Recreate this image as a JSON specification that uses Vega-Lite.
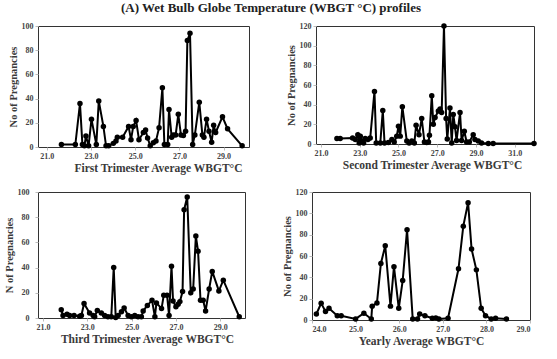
{
  "$schema": "https://vega.github.io/schema/vega-lite/v6.json",
  "background": "white",
  "padding": {"left": 3, "top": 1, "right": 4, "bottom": 2},
  "title": {"text": "(A)  Wet Bulb Globe Temperature (WBGT °C) profiles", "font": "Liberation Serif", "fontSize": 13, "fontWeight": "bold", "anchor": "middle", "color": "#222", "offset": 7},
  "config": {
    "view": {"stroke": "#333", "strokeWidth": 1},
    "axis": {"labelFont": "Liberation Serif", "labelFontWeight": "bold", "labelFontSize": 8, "labelColor": "#444", "titleFont": "Liberation Serif", "titleFontWeight": "bold", "titleFontSize": 10.5, "titleColor": "#3a3a3a", "grid": false, "domain": false, "tickColor": "#bbb", "tickSize": 3, "labelPadding": 2, "titlePadding": 3},
    "axisX": {"titleFontSize": 11.5, "titlePadding": 2},
    "line": {"color": "black", "strokeWidth": 2},
    "point": {"filled": true, "color": "black", "size": 30, "opacity": 1}
  },
  "datasets": {
    "p1": [
      {"x": 21.66, "n": 2}, {"x": 22.29, "n": 2}, {"x": 22.50, "n": 36}, {"x": 22.61, "n": 2}, {"x": 22.70, "n": 1},
      {"x": 22.77, "n": 9}, {"x": 22.89, "n": 1}, {"x": 23.02, "n": 23}, {"x": 23.24, "n": 2}, {"x": 23.35, "n": 38},
      {"x": 23.56, "n": 17}, {"x": 23.68, "n": 1}, {"x": 23.80, "n": 1}, {"x": 24.01, "n": 3}, {"x": 24.13, "n": 5},
      {"x": 24.19, "n": 8}, {"x": 24.43, "n": 8}, {"x": 24.70, "n": 17}, {"x": 24.81, "n": 6}, {"x": 24.91, "n": 17},
      {"x": 25.04, "n": 22}, {"x": 25.17, "n": 6}, {"x": 25.37, "n": 12}, {"x": 25.47, "n": 14}, {"x": 25.56, "n": 7.5},
      {"x": 25.68, "n": 1}, {"x": 25.82, "n": 3.5}, {"x": 25.94, "n": 5}, {"x": 26.08, "n": 16}, {"x": 26.23, "n": 49},
      {"x": 26.32, "n": 2}, {"x": 26.47, "n": 2}, {"x": 26.53, "n": 31}, {"x": 26.65, "n": 8}, {"x": 26.72, "n": 10},
      {"x": 26.83, "n": 10}, {"x": 26.95, "n": 27}, {"x": 27.07, "n": 10}, {"x": 27.18, "n": 9.5}, {"x": 27.28, "n": 13},
      {"x": 27.36, "n": 88}, {"x": 27.48, "n": 94}, {"x": 27.60, "n": 2}, {"x": 27.70, "n": 10}, {"x": 27.90, "n": 37},
      {"x": 28.04, "n": 10}, {"x": 28.11, "n": 8}, {"x": 28.23, "n": 23}, {"x": 28.34, "n": 13}, {"x": 28.46, "n": 4},
      {"x": 28.55, "n": 18}, {"x": 28.64, "n": 12}, {"x": 28.95, "n": 25}, {"x": 29.18, "n": 15}, {"x": 29.84, "n": 1}
    ],
    "p2": [
      {"x": 21.82, "n": 5.5}, {"x": 21.99, "n": 5.5}, {"x": 22.63, "n": 6}, {"x": 22.77, "n": 4.5}, {"x": 22.90, "n": 9.5},
      {"x": 22.97, "n": 1}, {"x": 23.03, "n": 8}, {"x": 23.11, "n": 3}, {"x": 23.20, "n": 1}, {"x": 23.28, "n": 5.5},
      {"x": 23.42, "n": 4.5}, {"x": 23.54, "n": 6}, {"x": 23.76, "n": 53.5}, {"x": 23.85, "n": 1}, {"x": 24.06, "n": 1},
      {"x": 24.19, "n": 34}, {"x": 24.28, "n": 1}, {"x": 24.48, "n": 1.5}, {"x": 24.66, "n": 4.5}, {"x": 24.78, "n": 2},
      {"x": 24.91, "n": 8}, {"x": 25.00, "n": 18}, {"x": 25.09, "n": 8}, {"x": 25.20, "n": 38}, {"x": 25.43, "n": 3},
      {"x": 25.55, "n": 1}, {"x": 25.69, "n": 3}, {"x": 25.82, "n": 1}, {"x": 25.91, "n": 19}, {"x": 26.06, "n": 9.5},
      {"x": 26.20, "n": 26}, {"x": 26.34, "n": 2}, {"x": 26.46, "n": 1.5}, {"x": 26.55, "n": 2}, {"x": 26.60, "n": 9},
      {"x": 26.72, "n": 49}, {"x": 26.80, "n": 20}, {"x": 26.89, "n": 27}, {"x": 27.06, "n": 33.5}, {"x": 27.15, "n": 35.5},
      {"x": 27.23, "n": 32}, {"x": 27.35, "n": 120}, {"x": 27.46, "n": 26}, {"x": 27.52, "n": 5}, {"x": 27.66, "n": 36.5},
      {"x": 27.75, "n": 1}, {"x": 27.83, "n": 30}, {"x": 27.92, "n": 17.5}, {"x": 28.00, "n": 3.5}, {"x": 28.18, "n": 32},
      {"x": 28.26, "n": 3.5}, {"x": 28.40, "n": 13}, {"x": 28.52, "n": 2}, {"x": 28.66, "n": 2}, {"x": 28.86, "n": 9.5},
      {"x": 28.95, "n": 4.5}, {"x": 29.12, "n": 3}, {"x": 29.29, "n": 1}, {"x": 29.64, "n": 0.5}, {"x": 29.89, "n": 0.5},
      {"x": 32.0, "n": 0.5}
    ],
    "p3": [
      {"x": 21.82, "n": 6.6}, {"x": 21.90, "n": 2}, {"x": 22.08, "n": 3}, {"x": 22.20, "n": 2}, {"x": 22.40, "n": 2},
      {"x": 22.65, "n": 1.3}, {"x": 22.73, "n": 2}, {"x": 22.85, "n": 11.5}, {"x": 23.10, "n": 4}, {"x": 23.26, "n": 2},
      {"x": 23.33, "n": 1}, {"x": 23.45, "n": 6}, {"x": 23.63, "n": 4}, {"x": 23.78, "n": 2}, {"x": 23.93, "n": 1},
      {"x": 24.08, "n": 1}, {"x": 24.19, "n": 40}, {"x": 24.28, "n": 0.3}, {"x": 24.39, "n": 2}, {"x": 24.54, "n": 5},
      {"x": 24.66, "n": 8}, {"x": 24.84, "n": 2}, {"x": 24.99, "n": 1}, {"x": 25.14, "n": 2}, {"x": 25.29, "n": 1},
      {"x": 25.44, "n": 1}, {"x": 25.52, "n": 5.5}, {"x": 25.71, "n": 10}, {"x": 25.92, "n": 14}, {"x": 26.05, "n": 1},
      {"x": 26.12, "n": 12}, {"x": 26.35, "n": 7.5}, {"x": 26.45, "n": 18}, {"x": 26.60, "n": 18}, {"x": 26.69, "n": 2},
      {"x": 26.80, "n": 41}, {"x": 26.87, "n": 13.5}, {"x": 27.00, "n": 9}, {"x": 27.10, "n": 11}, {"x": 27.18, "n": 13},
      {"x": 27.30, "n": 21}, {"x": 27.37, "n": 86}, {"x": 27.51, "n": 96}, {"x": 27.67, "n": 20}, {"x": 27.78, "n": 23},
      {"x": 27.90, "n": 65}, {"x": 28.00, "n": 53}, {"x": 28.11, "n": 14}, {"x": 28.23, "n": 14}, {"x": 28.34, "n": 5.5},
      {"x": 28.50, "n": 23}, {"x": 28.64, "n": 37}, {"x": 28.94, "n": 21.5}, {"x": 29.14, "n": 30}, {"x": 29.86, "n": 1}
    ],
    "p4": [
      {"x": 24.10, "n": 5.6}, {"x": 24.21, "n": 15.7}, {"x": 24.31, "n": 8}, {"x": 24.39, "n": 11}, {"x": 24.58, "n": 4},
      {"x": 24.67, "n": 4}, {"x": 25.00, "n": 1}, {"x": 25.19, "n": 6.3}, {"x": 25.36, "n": 1}, {"x": 25.38, "n": 13},
      {"x": 25.49, "n": 16}, {"x": 25.58, "n": 53}, {"x": 25.68, "n": 69.6}, {"x": 25.80, "n": 13}, {"x": 25.88, "n": 50},
      {"x": 25.99, "n": 11}, {"x": 26.08, "n": 37}, {"x": 26.18, "n": 84.6}, {"x": 26.31, "n": 1}, {"x": 26.42, "n": 1},
      {"x": 26.47, "n": 5.6}, {"x": 26.59, "n": 4}, {"x": 26.76, "n": 1.6}, {"x": 26.84, "n": 2}, {"x": 26.91, "n": 1},
      {"x": 27.12, "n": 1.6}, {"x": 27.36, "n": 48}, {"x": 27.47, "n": 88}, {"x": 27.58, "n": 110}, {"x": 27.66, "n": 66.5},
      {"x": 27.77, "n": 47}, {"x": 27.88, "n": 11}, {"x": 27.98, "n": 4}, {"x": 28.11, "n": 1}, {"x": 28.21, "n": 1.6},
      {"x": 28.46, "n": 1}
    ]
  },
  "spacing": 13,
  "vconcat": [
    {
      "spacing": 35,
      "hconcat": [
        {
          "data": {"name": "p1"}, "width": 211, "height": 121,
          "mark": {"type": "line", "point": true},
          "encoding": {
            "x": {"field": "x", "type": "quantitative", "scale": {"domain": [20.6, 30.15], "nice": false, "zero": false}, "axis": {"values": [21, 23, 25, 27, 29], "format": ".1f", "title": "First Trimester Average WBGT°C", "titleX": 120}},
            "y": {"field": "n", "type": "quantitative", "scale": {"domain": [0, 100], "nice": false}, "axis": {"values": [0, 20, 40, 60, 80, 100], "title": "No of Pregnancies"}}
          }
        },
        {
          "data": {"name": "p2"}, "width": 218, "height": 118,
          "mark": {"type": "line", "point": true},
          "encoding": {
            "x": {"field": "x", "type": "quantitative", "scale": {"domain": [20.74, 32.0], "nice": false, "zero": false}, "axis": {"values": [21, 23, 25, 27, 29, 31], "format": ".1f", "title": "Second Trimester Average WBGT°C", "titleX": 116}},
            "y": {"field": "n", "type": "quantitative", "scale": {"domain": [0, 120], "nice": false}, "axis": {"values": [0, 20, 40, 60, 80, 100, 120], "title": "No of Pregnancies"}}
          }
        }
      ]
    },
    {
      "spacing": 35,
      "hconcat": [
        {
          "data": {"name": "p3"}, "width": 207, "height": 126,
          "mark": {"type": "line", "point": true},
          "encoding": {
            "x": {"field": "x", "type": "quantitative", "scale": {"domain": [20.77, 30.12], "nice": false, "zero": false}, "axis": {"values": [21, 23, 25, 27, 29], "format": ".1f", "title": "Third Trimester Average WBGT°C", "titleX": 109}},
            "y": {"field": "n", "type": "quantitative", "scale": {"domain": [0, 100], "nice": false}, "axis": {"values": [0, 20, 40, 60, 80, 100], "title": "N of Pregnancies", "labelPadding": 6}}
          }
        },
        {
          "data": {"name": "p4"}, "width": 218, "height": 128,
          "mark": {"type": "line", "point": true},
          "encoding": {
            "x": {"field": "x", "type": "quantitative", "scale": {"domain": [24, 29], "nice": false, "zero": false}, "axis": {"values": [24, 25, 26, 27, 28, 29], "format": ".1f", "title": "Yearly Average WBGT°C"}},
            "y": {"field": "n", "type": "quantitative", "scale": {"domain": [0, 120], "nice": false}, "axis": {"values": [0, 20, 40, 60, 80, 100, 120], "title": "No of Pregnancies"}}
          }
        }
      ]
    }
  ]
}
